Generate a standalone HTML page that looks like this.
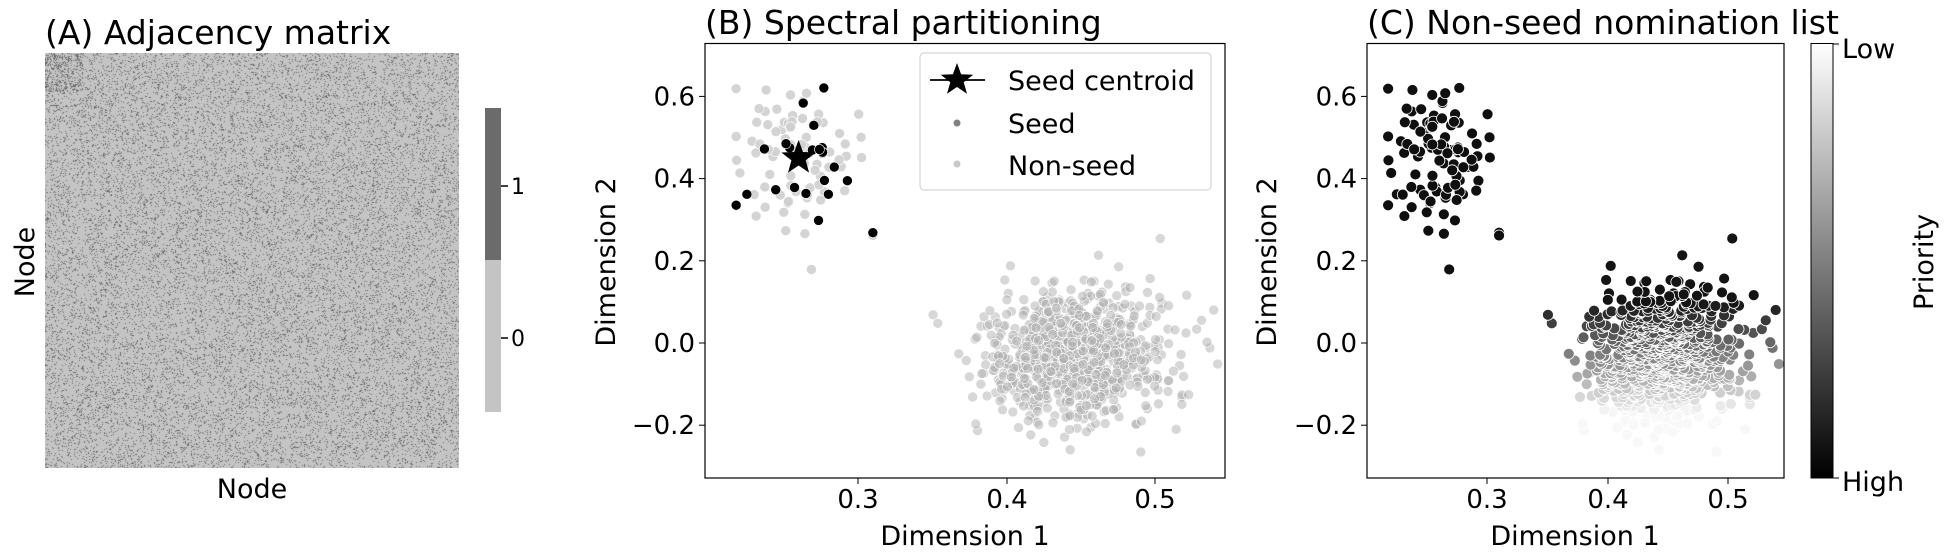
<!DOCTYPE html>
<html><head><meta charset="utf-8"><style>
html,body{margin:0;padding:0;background:#fff;}
body{width:1948px;height:559px;overflow:hidden;position:relative;font-family:"DejaVu Sans","Liberation Sans",sans-serif;}
svg text{font-family:"DejaVu Sans","Liberation Sans",sans-serif;}
#hm{position:absolute;left:45px;top:53px;}
#s{position:absolute;left:0;top:0;}
</style></head><body>
<canvas id="hm" width="414" height="415"></canvas>
<svg id="s" width="1948" height="559" xmlns="http://www.w3.org/2000/svg">
<defs><linearGradient id="g" x1="0" y1="1" x2="0" y2="0"><stop offset="0" stop-color="#000"/><stop offset="1" stop-color="#fff"/></linearGradient>
<clipPath id="cb"><rect x="705" y="43.5" width="520" height="434.5"/></clipPath>
<clipPath id="cc"><rect x="1367" y="43.5" width="417" height="434.5"/></clipPath></defs>
<text x="45" y="44" font-size="33">(A) Adjacency matrix</text>
<text x="252" y="498" font-size="27" text-anchor="middle">Node</text>
<text transform="translate(34,262) rotate(-90)" font-size="27" text-anchor="middle">Node</text>
<rect x="485" y="108" width="16" height="152" fill="#6b6b6b"/>
<rect x="485" y="260" width="16" height="152" fill="#c4c4c4"/>
<line x1="501" y1="186" x2="508" y2="186" stroke="#000" stroke-width="1.5"/>
<line x1="501" y1="338" x2="508" y2="338" stroke="#000" stroke-width="1.5"/>
<text x="511" y="194" font-size="22">1</text>
<text x="511" y="346" font-size="22">0</text>

<text x="705" y="34" font-size="33">(B) Spectral partitioning</text>
<g id="pb" clip-path="url(#cb)"></g>
<rect x="705" y="43.5" width="520" height="434.5" fill="none" stroke="#000" stroke-width="1.2"/>
<g font-size="26" text-anchor="middle">
<line x1="858" y1="478" x2="858" y2="484" stroke="#000"/><text x="858" y="508">0.3</text>
<line x1="1007" y1="478" x2="1007" y2="484" stroke="#000"/><text x="1007" y="508">0.4</text>
<line x1="1155" y1="478" x2="1155" y2="484" stroke="#000"/><text x="1155" y="508">0.5</text>
<text x="965" y="545" font-size="27">Dimension 1</text>
</g>
<g font-size="26" text-anchor="end" id="yb"></g>
<text transform="translate(615,262) rotate(-90)" font-size="27" text-anchor="middle">Dimension 2</text>
<rect x="920" y="53" width="291" height="137" rx="4" fill="#fff" fill-opacity="0.85" stroke="#ccc"/>
<line x1="930" y1="80" x2="985" y2="80" stroke="#000" stroke-width="1.8"/>
<polygon id="lstar" fill="#000"/>
<circle cx="957" cy="123" r="3.5" fill="#808080"/>
<circle cx="957" cy="164" r="3.5" fill="#c8c8c8"/>
<text x="1008" y="90" font-size="27">Seed centroid</text>
<text x="1008" y="133" font-size="27">Seed</text>
<text x="1008" y="175" font-size="27">Non-seed</text>

<text x="1367" y="34" font-size="33">(C) Non-seed nomination list</text>
<g id="pc" clip-path="url(#cc)"></g>
<rect x="1367" y="43.5" width="417" height="434.5" fill="none" stroke="#000" stroke-width="1.2"/>
<g font-size="26" text-anchor="middle">
<line x1="1487" y1="478" x2="1487" y2="484" stroke="#000"/><text x="1487" y="508">0.3</text>
<line x1="1608" y1="478" x2="1608" y2="484" stroke="#000"/><text x="1608" y="508">0.4</text>
<line x1="1728" y1="478" x2="1728" y2="484" stroke="#000"/><text x="1728" y="508">0.5</text>
<text x="1575" y="545" font-size="27">Dimension 1</text>
</g>
<g font-size="26" text-anchor="end" id="yc"></g>
<text transform="translate(1276,262) rotate(-90)" font-size="27" text-anchor="middle">Dimension 2</text>
<rect x="1811" y="43.5" width="22" height="434.5" fill="url(#g)" stroke="#000" stroke-width="1"/>
<line x1="1833" y1="44" x2="1839" y2="44" stroke="#000"/>
<line x1="1833" y1="478" x2="1839" y2="478" stroke="#000"/>
<text x="1842" y="58" font-size="27">Low</text>
<text x="1842" y="491" font-size="27">High</text>
<text transform="translate(1933,262) rotate(-90)" font-size="27" text-anchor="middle">Priority</text>
</svg>
<script>
let seed=777;function rnd(){seed=(seed*1664525+1013904223)>>>0;return seed/4294967296;}
function gauss(){let u=rnd()||1e-9,v=rnd();return Math.sqrt(-2*Math.log(u))*Math.cos(2*Math.PI*v);}
const c=document.getElementById('hm').getContext('2d');
const W=414,H=415;
const im=c.createImageData(W,H);
for(let y=0;y<H;y++)for(let x=0;x<W;x++){
 let p=(x<38&&y<38)?0.3:0.12;let d=rnd()<p;let v=d?107:196;
 let i=(y*W+x)*4;im.data[i]=im.data[i+1]=im.data[i+2]=v;im.data[i+3]=255;}
c.putImageData(im,0,0);
const NS='http://www.w3.org/2000/svg';
function el(t,a,p){const e=document.createElementNS(NS,t);for(const k in a)e.setAttribute(k,a[k]);p.appendChild(e);return e;}
const yt=[[0.6,'0.6'],[0.4,'0.4'],[0.2,'0.2'],[0,'0.0'],[-0.2,'\u22120.2']];
const Y=v=>343-v*411;
for(const [v,l] of yt){
 for(const [g,x0] of [['yb',705],['yc',1367]]){
  const G=document.getElementById(g);
  el('line',{x1:x0-6,y1:Y(v),x2:x0,y2:Y(v),stroke:'#000'},G);
  const t=el('text',{x:x0-10,y:Y(v)+9},G);t.textContent=l;}}
const pts=[];
for(let i=0;i<100;i++)pts.push({x:Math.max(0.218,Math.min(0.31,0.258+0.019*gauss())),y:0.45+0.085*gauss(),c:1,seed:i<22});
for(let i=0;i<900;i++)pts.push({x:0.445+0.03*gauss(),y:-0.03+0.08*gauss(),c:2,seed:false});
const XB=x=>858+(x-0.3)*1486, XC=x=>1487+(x-0.3)*1206;
const pb=document.getElementById('pb'),pc=document.getElementById('pc');
for(const p of pts){ if(!p.seed) el('circle',{cx:XB(p.x),cy:Y(p.y),r:5,fill:p.c==1?'#cfcfcf':'#b0b0b0','fill-opacity':p.c==1?0.9:0.5,stroke:'#fff','stroke-width':0.6},pb);}
for(const p of pts){ if(p.seed) el('circle',{cx:XB(p.x),cy:Y(p.y),r:5,fill:'#000',stroke:'#fff','stroke-width':0.6},pb);}
function star(cx,cy,R,r){let s=[];for(let i=0;i<10;i++){let a=-Math.PI/2+i*Math.PI/5,rr=i%2?r:R;s.push((cx+rr*Math.cos(a)).toFixed(1)+','+(cy+rr*Math.sin(a)).toFixed(1));}return s.join(' ');}
el('polygon',{points:star(XB(0.26),Y(0.45),18,7.5),fill:'#000'},pb);
document.getElementById('lstar').setAttribute('points',star(957,80,17,7));
const cp=pts.map(p=>{let g;if(p.c==1)g=15;else{let t=(0.1-p.y)/0.27;t=Math.max(0,Math.min(1,t));g=Math.round(20+t*228);}return {...p,g};});
cp.sort((a,b)=>b.g-a.g);
for(const p of cp) el('circle',{cx:XC(p.x),cy:Y(p.y),r:5.5,fill:`rgb(${p.g},${p.g},${p.g})`,stroke:'#fff','stroke-width':0.8},pc);
</script>
</body></html>
